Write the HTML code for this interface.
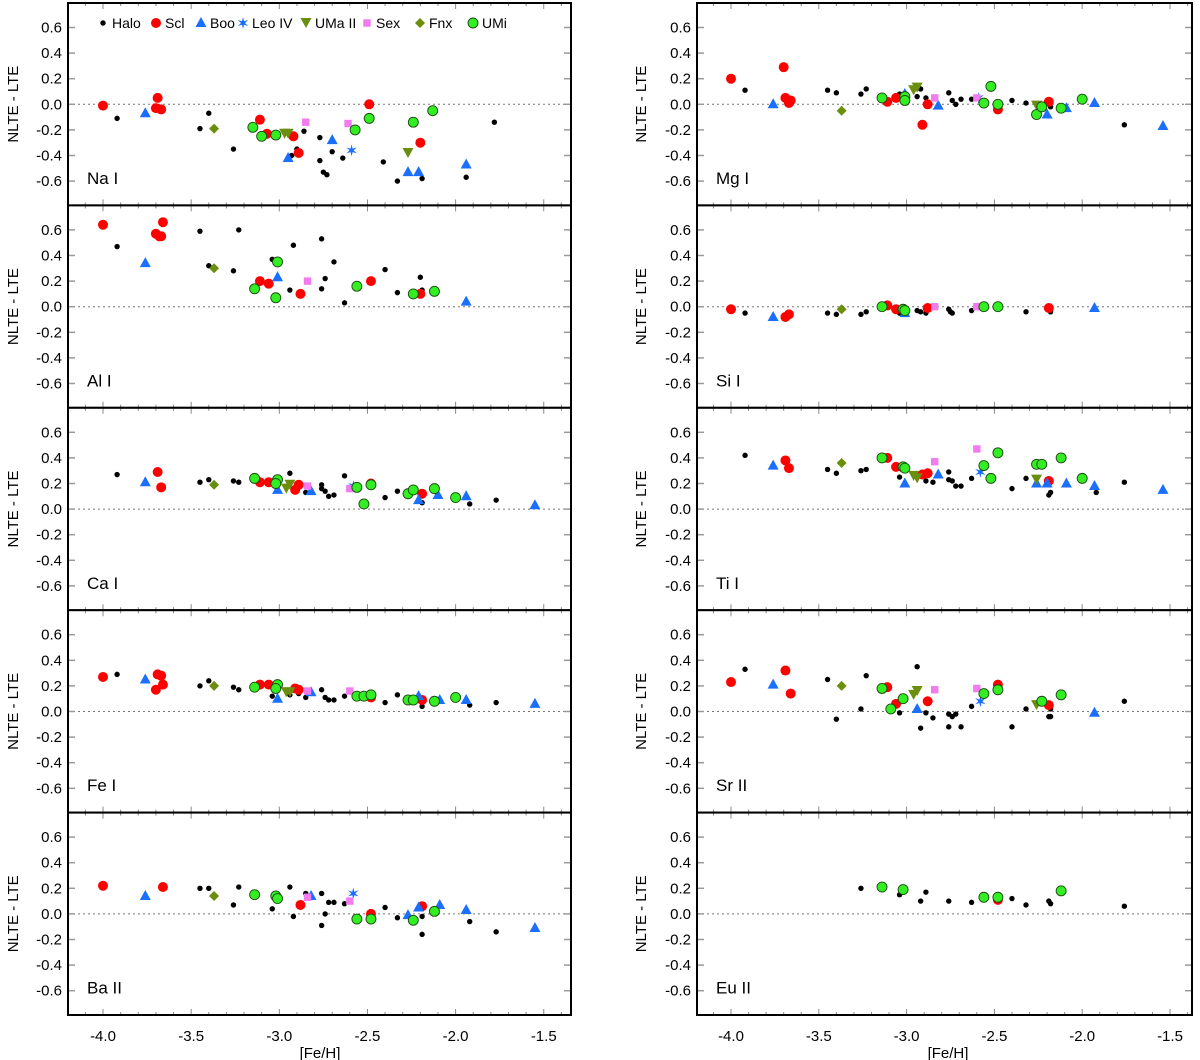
<!DOCTYPE html>
<html><head><meta charset="utf-8">
<style>
html,body{margin:0;padding:0;background:#fff;}
svg{display:block;font-family:"Liberation Sans",Arial,sans-serif;}
</style></head>
<body>
<svg id="chart" width="1200" height="1060" viewBox="0 0 1200 1060" xmlns="http://www.w3.org/2000/svg"></svg>
<script>
// ---------- data: [Fe/H], NLTE-LTE ----------
const panelNames = ["Na I","Mg I","Al I","Si I","Ca I","Ti I","Fe I","Sr II","Ba II","Eu II"];
const xTicks = [-4.0,-3.5,-3.0,-2.5,-2.0,-1.5];
const yTicks = [0.6,0.4,0.2,0.0,-0.2,-0.4,-0.6];

const NaI_Halo=[[-3.92,-0.11],[-3.45,-0.19],[-3.40,-0.07],[-3.26,-0.35],[-2.93,-0.40],[-2.90,-0.35],[-2.86,-0.21],[-2.77,-0.26],[-2.77,-0.44],[-2.75,-0.53],[-2.73,-0.55],[-2.70,-0.37],[-2.64,-0.42],[-2.41,-0.45],[-2.33,-0.60],[-2.19,-0.58],[-1.94,-0.57],[-1.78,-0.14]];
const NaI_Scl=[[-4.0,-0.01],[-3.69,0.05],[-3.70,-0.03],[-3.67,-0.04],[-3.11,-0.12],[-3.07,-0.23],[-2.92,-0.25],[-2.89,-0.38],[-2.49,0.0],[-2.20,-0.30]];
const NaI_Boo=[[-3.76,-0.07],[-2.95,-0.42],[-2.70,-0.28],[-2.27,-0.53],[-2.21,-0.53],[-1.94,-0.47]];
const NaI_Leo=[[-2.59,-0.36]];
const NaI_UMa=[[-2.97,-0.23],[-2.95,-0.23],[-2.27,-0.38]];
const NaI_Sex=[[-2.85,-0.14],[-2.61,-0.15]];
const NaI_Fnx=[[-3.37,-0.19]];
const NaI_UMi=[[-3.15,-0.18],[-3.10,-0.25],[-3.02,-0.24],[-2.57,-0.20],[-2.49,-0.11],[-2.24,-0.14],[-2.13,-0.05]];

const MgI_Halo=[[-3.92,0.11],[-3.45,0.11],[-3.40,0.09],[-3.26,0.08],[-3.23,0.12],[-3.04,0.08],[-2.94,0.06],[-2.92,0.12],[-2.89,0.05],[-2.76,0.09],[-2.74,0.03],[-2.72,0.0],[-2.69,0.04],[-2.63,0.04],[-2.40,0.03],[-2.32,0.01],[-2.18,-0.02],[-1.76,-0.16]];
const MgI_Scl=[[-4.0,0.20],[-3.70,0.29],[-3.69,0.05],[-3.67,0.01],[-3.66,0.03],[-3.11,0.02],[-3.06,0.05],[-2.91,-0.16],[-2.88,0.0],[-2.48,-0.04],[-2.19,0.02]];
const MgI_Boo=[[-3.76,0.0],[-3.01,0.08],[-2.82,-0.01],[-2.20,-0.08],[-2.09,-0.03],[-1.93,0.01],[-1.54,-0.17]];
const MgI_Leo=[[-2.59,0.05]];
const MgI_UMa=[[-2.96,0.11],[-2.94,0.13],[-2.26,-0.01]];
const MgI_Sex=[[-2.84,0.05],[-2.60,0.05]];
const MgI_Fnx=[[-3.37,-0.05]];
const MgI_UMi=[[-3.14,0.05],[-3.01,0.06],[-3.01,0.03],[-2.56,0.01],[-2.52,0.14],[-2.48,0.0],[-2.26,-0.08],[-2.23,-0.02],[-2.12,-0.03],[-2.00,0.04]];

const AlI_Halo=[[-3.92,0.47],[-3.45,0.59],[-3.40,0.32],[-3.26,0.28],[-3.23,0.60],[-3.04,0.37],[-2.92,0.48],[-2.94,0.13],[-2.76,0.53],[-2.76,0.14],[-2.74,0.22],[-2.69,0.35],[-2.63,0.03],[-2.40,0.29],[-2.33,0.11],[-2.20,0.23],[-2.19,0.13]];
const AlI_Scl=[[-4.0,0.64],[-3.66,0.66],[-3.70,0.57],[-3.68,0.55],[-3.67,0.55],[-3.11,0.20],[-3.06,0.18],[-2.88,0.10],[-2.48,0.20],[-2.20,0.10]];
const AlI_Boo=[[-3.76,0.34],[-3.01,0.23],[-1.94,0.04]];
const AlI_Leo=[];
const AlI_UMa=[];
const AlI_Sex=[[-2.84,0.20]];
const AlI_Fnx=[[-3.37,0.30]];
const AlI_UMi=[[-3.14,0.14],[-3.01,0.35],[-3.02,0.07],[-2.56,0.16],[-2.24,0.10],[-2.12,0.12]];

const SiI_Halo=[[-3.92,-0.05],[-3.45,-0.05],[-3.40,-0.06],[-3.26,-0.06],[-3.23,-0.04],[-3.04,-0.05],[-2.94,-0.03],[-2.92,-0.04],[-2.89,-0.05],[-2.76,-0.02],[-2.75,-0.04],[-2.74,-0.05],[-2.63,-0.03],[-2.32,-0.04],[-2.18,-0.04]];
const SiI_Scl=[[-4.0,-0.02],[-3.69,-0.08],[-3.67,-0.06],[-3.11,0.01],[-3.06,-0.02],[-2.88,-0.01],[-2.19,-0.01]];
const SiI_Boo=[[-3.76,-0.08],[-3.01,-0.05],[-1.93,-0.01]];
const SiI_Leo=[];
const SiI_UMa=[];
const SiI_Sex=[[-2.84,0.0],[-2.60,0.0]];
const SiI_Fnx=[[-3.37,-0.02]];
const SiI_UMi=[[-3.14,0.0],[-3.02,-0.02],[-3.01,-0.03],[-2.56,0.0],[-2.48,0.0]];

const CaI_Halo=[[-3.92,0.27],[-3.45,0.21],[-3.40,0.23],[-3.26,0.22],[-3.23,0.21],[-2.94,0.28],[-2.85,0.13],[-2.76,0.19],[-2.76,0.16],[-2.74,0.14],[-2.72,0.10],[-2.69,0.11],[-2.63,0.26],[-2.40,0.09],[-2.33,0.14],[-2.19,0.05],[-1.92,0.04],[-1.77,0.07]];
const CaI_Scl=[[-3.69,0.29],[-3.67,0.17],[-3.11,0.21],[-3.06,0.21],[-2.91,0.15],[-2.89,0.19],[-2.48,0.20],[-2.19,0.12]];
const CaI_Boo=[[-3.76,0.21],[-3.01,0.15],[-2.82,0.14],[-2.21,0.07],[-2.10,0.11],[-1.94,0.10],[-1.55,0.03]];
const CaI_Leo=[[-2.58,0.18]];
const CaI_UMa=[[-2.96,0.16],[-2.94,0.19]];
const CaI_Sex=[[-2.84,0.18],[-2.60,0.16]];
const CaI_Fnx=[[-3.37,0.19]];
const CaI_UMi=[[-3.14,0.24],[-3.01,0.23],[-3.02,0.20],[-2.56,0.17],[-2.52,0.04],[-2.48,0.19],[-2.27,0.12],[-2.24,0.15],[-2.12,0.16],[-2.00,0.09]];

const TiI_Halo=[[-3.92,0.42],[-3.45,0.31],[-3.40,0.28],[-3.26,0.30],[-3.23,0.31],[-3.04,0.25],[-2.89,0.22],[-2.85,0.21],[-2.76,0.29],[-2.76,0.23],[-2.74,0.22],[-2.72,0.18],[-2.69,0.18],[-2.63,0.24],[-2.40,0.16],[-2.32,0.24],[-2.19,0.11],[-2.18,0.13],[-1.92,0.13],[-1.76,0.21]];
const TiI_Scl=[[-3.69,0.38],[-3.67,0.32],[-3.11,0.40],[-3.06,0.33],[-2.91,0.27],[-2.88,0.28],[-2.19,0.22]];
const TiI_Boo=[[-3.76,0.34],[-3.01,0.20],[-2.82,0.27],[-2.26,0.20],[-2.20,0.20],[-2.09,0.20],[-1.93,0.18],[-1.54,0.15]];
const TiI_Leo=[[-2.58,0.29]];
const TiI_UMa=[[-2.96,0.26],[-2.94,0.24],[-2.26,0.23]];
const TiI_Sex=[[-2.84,0.37],[-2.60,0.47]];
const TiI_Fnx=[[-3.37,0.36]];
const TiI_UMi=[[-3.14,0.40],[-3.02,0.33],[-3.01,0.32],[-2.56,0.34],[-2.52,0.24],[-2.48,0.44],[-2.26,0.35],[-2.23,0.35],[-2.12,0.40],[-2.00,0.24]];

const FeI_Halo=[[-3.92,0.29],[-3.45,0.20],[-3.40,0.24],[-3.26,0.19],[-3.23,0.17],[-3.04,0.12],[-2.94,0.13],[-2.89,0.14],[-2.85,0.11],[-2.76,0.17],[-2.74,0.11],[-2.72,0.09],[-2.69,0.09],[-2.63,0.12],[-2.40,0.07],[-2.33,0.13],[-2.19,0.04],[-1.92,0.05],[-1.77,0.07]];
const FeI_Scl=[[-4.0,0.27],[-3.69,0.29],[-3.67,0.28],[-3.70,0.17],[-3.66,0.21],[-3.11,0.21],[-3.06,0.21],[-2.91,0.18],[-2.89,0.17],[-2.48,0.11],[-2.19,0.09]];
const FeI_Boo=[[-3.76,0.25],[-3.01,0.10],[-2.82,0.15],[-2.21,0.12],[-2.09,0.09],[-1.94,0.09],[-1.55,0.06]];
const FeI_Leo=[];
const FeI_UMa=[[-2.96,0.15],[-2.94,0.15]];
const FeI_Sex=[[-2.84,0.16],[-2.60,0.16]];
const FeI_Fnx=[[-3.37,0.20]];
const FeI_UMi=[[-3.14,0.19],[-3.01,0.21],[-3.02,0.18],[-2.56,0.12],[-2.52,0.12],[-2.48,0.13],[-2.27,0.09],[-2.24,0.09],[-2.12,0.08],[-2.00,0.11]];

const SrII_Halo=[[-3.92,0.33],[-3.45,0.25],[-3.40,-0.06],[-3.26,0.02],[-3.23,0.28],[-3.04,-0.01],[-2.94,0.35],[-2.92,-0.13],[-2.89,-0.01],[-2.85,-0.05],[-2.76,-0.02],[-2.76,-0.12],[-2.74,-0.04],[-2.72,-0.02],[-2.69,-0.12],[-2.63,0.04],[-2.40,-0.12],[-2.32,0.02],[-2.19,-0.04],[-2.18,-0.04],[-2.18,0.02],[-1.76,0.08]];
const SrII_Scl=[[-4.0,0.23],[-3.69,0.32],[-3.66,0.14],[-3.11,0.19],[-3.06,0.06],[-2.88,0.08],[-2.48,0.21],[-2.19,0.05]];
const SrII_Boo=[[-3.76,0.21],[-2.94,0.02],[-1.93,-0.01]];
const SrII_Leo=[[-2.58,0.08]];
const SrII_UMa=[[-2.96,0.13],[-2.94,0.16],[-2.26,0.05]];
const SrII_Sex=[[-2.84,0.17],[-2.60,0.18]];
const SrII_Fnx=[[-3.37,0.20]];
const SrII_UMi=[[-3.14,0.18],[-3.09,0.02],[-3.02,0.10],[-2.56,0.14],[-2.48,0.17],[-2.23,0.08],[-2.12,0.13]];

const BaII_Halo=[[-3.45,0.20],[-3.40,0.20],[-3.26,0.07],[-3.23,0.21],[-3.04,0.04],[-2.94,0.21],[-2.92,-0.02],[-2.85,0.16],[-2.76,0.16],[-2.76,-0.09],[-2.74,0.0],[-2.72,0.09],[-2.69,0.09],[-2.63,0.08],[-2.40,0.05],[-2.33,-0.03],[-2.19,-0.02],[-2.19,-0.16],[-1.92,-0.06],[-1.77,-0.14]];
const BaII_Scl=[[-4.0,0.22],[-3.66,0.21],[-2.88,0.07],[-2.48,0.0],[-2.19,0.06]];
const BaII_Boo=[[-3.76,0.14],[-2.82,0.14],[-2.27,-0.01],[-2.21,0.05],[-2.09,0.07],[-1.94,0.03],[-1.55,-0.11]];
const BaII_Leo=[[-2.58,0.16]];
const BaII_UMa=[];
const BaII_Sex=[[-2.84,0.13],[-2.60,0.10]];
const BaII_Fnx=[[-3.37,0.14]];
const BaII_UMi=[[-3.14,0.15],[-3.02,0.14],[-3.01,0.12],[-2.56,-0.04],[-2.48,-0.04],[-2.24,-0.05],[-2.12,0.02]];

const EuII_Halo=[[-3.26,0.20],[-3.04,0.15],[-2.89,0.17],[-2.92,0.10],[-2.76,0.10],[-2.63,0.09],[-2.40,0.12],[-2.32,0.07],[-2.19,0.10],[-2.18,0.08],[-1.76,0.06]];
const EuII_Scl=[[-2.48,0.11]];
const EuII_Boo=[];
const EuII_Leo=[];
const EuII_UMa=[];
const EuII_Sex=[];
const EuII_Fnx=[];
const EuII_UMi=[[-3.14,0.21],[-3.02,0.19],[-2.56,0.13],[-2.48,0.13],[-2.12,0.18]];

const panelData = [
 [NaI_Halo,NaI_Scl,NaI_Boo,NaI_Leo,NaI_UMa,NaI_Sex,NaI_Fnx,NaI_UMi],
 [MgI_Halo,MgI_Scl,MgI_Boo,MgI_Leo,MgI_UMa,MgI_Sex,MgI_Fnx,MgI_UMi],
 [AlI_Halo,AlI_Scl,AlI_Boo,AlI_Leo,AlI_UMa,AlI_Sex,AlI_Fnx,AlI_UMi],
 [SiI_Halo,SiI_Scl,SiI_Boo,SiI_Leo,SiI_UMa,SiI_Sex,SiI_Fnx,SiI_UMi],
 [CaI_Halo,CaI_Scl,CaI_Boo,CaI_Leo,CaI_UMa,CaI_Sex,CaI_Fnx,CaI_UMi],
 [TiI_Halo,TiI_Scl,TiI_Boo,TiI_Leo,TiI_UMa,TiI_Sex,TiI_Fnx,TiI_UMi],
 [FeI_Halo,FeI_Scl,FeI_Boo,FeI_Leo,FeI_UMa,FeI_Sex,FeI_Fnx,FeI_UMi],
 [SrII_Halo,SrII_Scl,SrII_Boo,SrII_Leo,SrII_UMa,SrII_Sex,SrII_Fnx,SrII_UMi],
 [BaII_Halo,BaII_Scl,BaII_Boo,BaII_Leo,BaII_UMa,BaII_Sex,BaII_Fnx,BaII_UMi],
 [EuII_Halo,EuII_Scl,EuII_Boo,EuII_Leo,EuII_UMa,EuII_Sex,EuII_Fnx,EuII_UMi]
];
const seriesNames = ["Halo","Scl","Boo","Leo IV","UMa II","Sex","Fnx","UMi"];
const seriesKeys = ["halo","scl","boo","leo-iv","uma-ii","sex","fnx","umi"];

// ---------- drawing ----------
const NS="http://www.w3.org/2000/svg";
const svg=document.getElementById('chart');
function mk(tag,attrs,parent){const e=document.createElementNS(NS,tag);for(const k in attrs)e.setAttribute(k,attrs[k]);(parent||svg).appendChild(e);return e;}

const cols=[{left:68,right:571,x4:103,k:176.3},{left:697,right:1192,x4:731,k:175.6}];
const rowH=202.4, top0=3, zero0=104.3, yk=128;
function xScale(c,v){return cols[c].x4+(v+4)*cols[c].k;}
function yScale(r,v){return zero0+r*rowH-v*yk;}

function marker(s,x,y,g){
  let e;
  if(s===0){e=mk('circle',{cx:x,cy:y,r:2.7,fill:'#000'},g);}
  else if(s===1){e=mk('circle',{cx:x,cy:y,r:5,fill:'#ff0000'},g);}
  else if(s===2){e=mk('polygon',{points:`${x},${y-6} ${x+5.5},${y+4} ${x-5.5},${y+4}`,fill:'#1a6fff'},g);}
  else if(s===3){let p=[];for(let i=0;i<12;i++){const a=-Math.PI/2+i*Math.PI/6;const rr=i%2?2:6;p.push((x+rr*Math.cos(a)).toFixed(1)+','+(y+rr*Math.sin(a)).toFixed(1));}
    e=mk('polygon',{points:p.join(' '),fill:'#1a6fff'},g);}
  else if(s===4){e=mk('polygon',{points:`${x-5.5},${y-5} ${x+5.5},${y-5} ${x},${y+5}`,fill:'#6b8e0f'},g);}
  else if(s===5){e=mk('rect',{x:x-3.7,y:y-3.7,width:7.4,height:7.4,fill:'#f07cf0'},g);}
  else if(s===6){e=mk('polygon',{points:`${x},${y-5} ${x+5},${y} ${x},${y+5} ${x-5},${y}`,fill:'#6b8e0f'},g);}
  else {e=mk('circle',{cx:x,cy:y,r:5,fill:'#33ee22',stroke:'#1a4a10','stroke-width':0.9},g);}
  return e;
}

for(let p=0;p<10;p++){
  const c=p%2, r=Math.floor(p/2);
  const L=cols[c].left, R=cols[c].right, T=top0+r*rowH, B=T+rowH;
  const g=mk('g',{});
  
  
  mk('rect',{x:L,y:T,width:R-L,height:rowH,fill:'#fff'},g);
  // zero line
  const zl=mk('line',{x1:L,x2:R,y1:yScale(r,0),y2:yScale(r,0),stroke:'#777','stroke-width':1,'stroke-dasharray':'2,3'},g);
  
  
  // y ticks
  yTicks.forEach(t=>{
    const y=yScale(r,t);
    mk('line',{x1:L,x2:L+7,y1:y,y2:y,stroke:'#999','stroke-width':1.5},g);
    mk('line',{x1:R-7,x2:R,y1:y,y2:y,stroke:'#999','stroke-width':1.5},g);
    const tx=mk('text',{x:L-6,y:y+5,'text-anchor':'end','font-size':15,fill:'#000'},g);
    tx.textContent=t.toFixed(1);
    
    
  });
  // x ticks minor/major
  for(let i=-42;i<=-13;i++){
    const v=i/10; const x=xScale(c,v); if(x<L||x>R) continue;
    const major=(i%5===0); const len=major?6:3;
    mk('line',{x1:x,x2:x,y1:B,y2:B-len,stroke:'#888','stroke-width':1},g);
    mk('line',{x1:x,x2:x,y1:T,y2:T+len,stroke:'#888','stroke-width':1},g);
  }
  // y axis title
  const yt=mk('text',{x:0,y:0,'text-anchor':'middle','font-size':15,transform:`translate(${c?646:18},${T+rowH/2}) rotate(-90)`},g);
  yt.textContent='NLTE - LTE';
  
  
  // panel label
  const pl=mk('text',{x:L+19,y:T+181,'font-size':17},g);
  pl.textContent=panelNames[p];
  
  
  // markers: draw halo last? Reference draws dwarfs over halo
  const order=[0,1,2,3,4,5,6,7];
  order.forEach(s=>{
    panelData[p][s].forEach(d=>{
      const m=marker(s,xScale(c,d[0]),yScale(r,d[1]),g);
      
      
    });
  });
  // frame
  mk('rect',{x:L,y:T,width:R-L,height:rowH,fill:'none',stroke:'#000','stroke-width':2},g);
}

// x tick labels and title
for(let c=0;c<2;c++){
  xTicks.forEach(t=>{
    const tx=mk('text',{x:xScale(c,t),y:1041,'text-anchor':'middle','font-size':15});
    tx.textContent=t.toFixed(1);
    
    
  });
  const xt=mk('text',{x:c?948:320,y:1058,'text-anchor':'middle','font-size':15});
  xt.textContent='[Fe/H]';
  
  
}

// legend
const legX=[103,156,201,243,306,367,420,473];
const lg=mk('g',{});


seriesNames.forEach((n,i)=>{
  const m=marker(i,legX[i],23,lg);
  
  
  const t=mk('text',{x:legX[i]+(i===0?9:9),y:28,'font-size':14},lg);
  t.textContent=n;
  
  
});
</script>
</body></html>
